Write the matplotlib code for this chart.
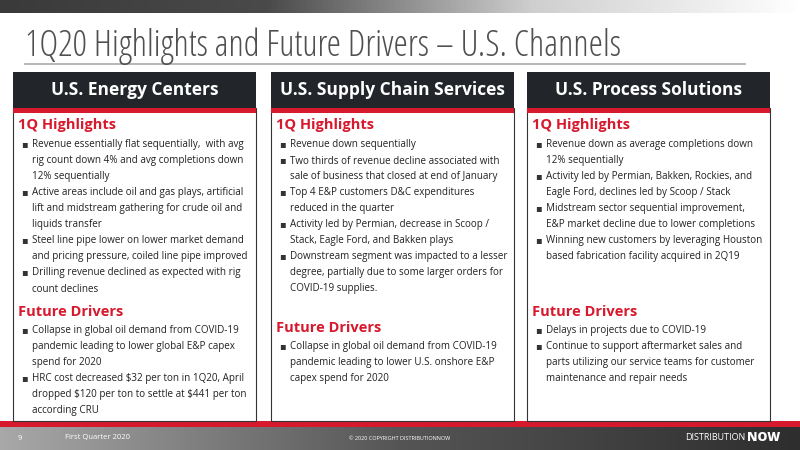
import matplotlib
matplotlib.use("Agg")
import matplotlib.pyplot as plt
import numpy as np
from matplotlib.patches import Rectangle

plt.rcParams['text.parse_math'] = False

title = "1Q20 Highlights and Future Drivers – U.S. Channels"
panel_titles = ["U.S. Energy Centers", "U.S. Supply Chain Services", "U.S. Process Solutions"]
highlights = [
    [["Revenue essentially flat sequentially,  with avg", "rig count down 4% and avg completions down", "12% sequentially"],
     ["Active areas include oil and gas plays, artificial", "lift and midstream gathering for crude oil and", "liquids transfer"],
     ["Steel line pipe lower on lower market demand", "and pricing pressure, coiled line pipe improved"],
     ["Drilling revenue declined as expected with rig", "count declines"]],
    [["Revenue down sequentially"],
     ["Two thirds of revenue decline associated with", "sale of business that closed at end of January"],
     ["Top 4 E&P customers D&C expenditures", "reduced in the quarter"],
     ["Activity led by Permian, decrease in Scoop /", "Stack, Eagle Ford, and Bakken plays"],
     ["Downstream segment was impacted to a lesser", "degree, partially due to some larger orders for", "COVID-19 supplies."]],
    [["Revenue down as average completions down", "12% sequentially"],
     ["Activity led by Permian, Bakken, Rockies, and", "Eagle Ford, declines led by Scoop / Stack"],
     ["Midstream sector sequential improvement,", "E&P market decline due to lower completions"],
     ["Winning new customers by leveraging Houston", "based fabrication facility acquired in 2Q19"]],
]
drivers = [
    [["Collapse in global oil demand from COVID-19", "pandemic leading to lower global E&P capex", "spend for 2020"],
     ["HRC cost decreased $32 per ton in 1Q20, April", "dropped $120 per ton to settle at $441 per ton", "according CRU"]],
    [["Collapse in global oil demand from COVID-19", "pandemic leading to lower U.S. onshore E&P", "capex spend for 2020"]],
    [["Delays in projects due to COVID-19"],
     ["Continue to support aftermarket sales and", "parts utilizing our service teams for customer", "maintenance and repair needs"]],
]
driver_y = [312, 328, 312]

fig = plt.figure(figsize=(8, 4.5), dpi=100)
ax = fig.add_axes([0, 0, 1, 1])
ax.set_xlim(0, 800); ax.set_ylim(450, 0); ax.axis("off")
FONT = "Open Sans"
RED = "#d7192d"

grad = np.linspace(0, 1, 256)[None, :]
ax.imshow(grad, extent=(0, 800, 13, 0), cmap=matplotlib.colors.LinearSegmentedColormap.from_list("g", ["#3a3a3a", "#4a4a4a", "#cfcfcf", "#ffffff"]), aspect="auto", zorder=0)
ax.imshow(grad, extent=(0, 800, 450, 427), cmap=matplotlib.colors.LinearSegmentedColormap.from_list("g2", ["#a8a8a8", "#555555", "#2e2e2e"]), aspect="auto", zorder=0)
ax.add_patch(Rectangle((0, 421), 800, 6, color=RED, lw=0))

ax.text(25, 46, title, fontsize=26, color="#505050", family=FONT, va="center", fontstretch="condensed")
ax.plot([25, 745], [64, 64], color="#aaaaaa", lw=1.2)

px = [13, 271, 527]
pw = 243
for i in range(3):
    x0 = px[i]
    ax.add_patch(Rectangle((x0, 108), pw, 313, fc="white", ec="#333333", lw=0.8))
    ax.add_patch(Rectangle((x0, 72), pw, 36, color="#22262a", lw=0))
    ax.add_patch(Rectangle((x0, 108), pw, 5, color=RED, lw=0))
    ax.text(x0 + pw / 2, 90, panel_titles[i], color="white", fontsize=12.5, ha="center", va="center", family=FONT, fontweight="bold")
    ax.text(x0 + 5, 125, "1Q Highlights", color=RED, fontsize=10.5, va="center", family=FONT, fontweight="bold")
    y = 145
    for b in highlights[i]:
        ax.text(x0 + 8, y - 1, "▪", fontsize=7, va="center", family="DejaVu Sans", color="#333333")
        for ln in b:
            ax.text(x0 + 19, y, ln, fontsize=7.1, va="center", family=FONT, color="#222222")
            y += 16
    y = driver_y[i]
    ax.text(x0 + 5, y, "Future Drivers", color=RED, fontsize=10.5, va="center", family=FONT, fontweight="bold")
    y += 19
    for b in drivers[i]:
        ax.text(x0 + 8, y - 1, "▪", fontsize=7, va="center", family="DejaVu Sans", color="#333333")
        for ln in b:
            ax.text(x0 + 19, y, ln, fontsize=7.1, va="center", family=FONT, color="#222222")
            y += 16

ax.text(18, 438, "9", fontsize=5.5, color="white", va="center", family=FONT)
ax.text(65, 438, "First Quarter 2020", fontsize=5.5, color="white", va="center", family=FONT)
ax.text(400, 438, "© 2020 COPYRIGHT DISTRIBUTIONNOW", fontsize=4, color="white", va="center", ha="center", family=FONT)
ax.text(745, 438, "DISTRIBUTION", fontsize=6.5, color="white", va="center", ha="right", family=FONT)
ax.text(747, 438, "NOW", fontsize=9, color="white", va="center", ha="left", family=FONT, fontweight="black")

fig.savefig("out.png", dpi=100)
